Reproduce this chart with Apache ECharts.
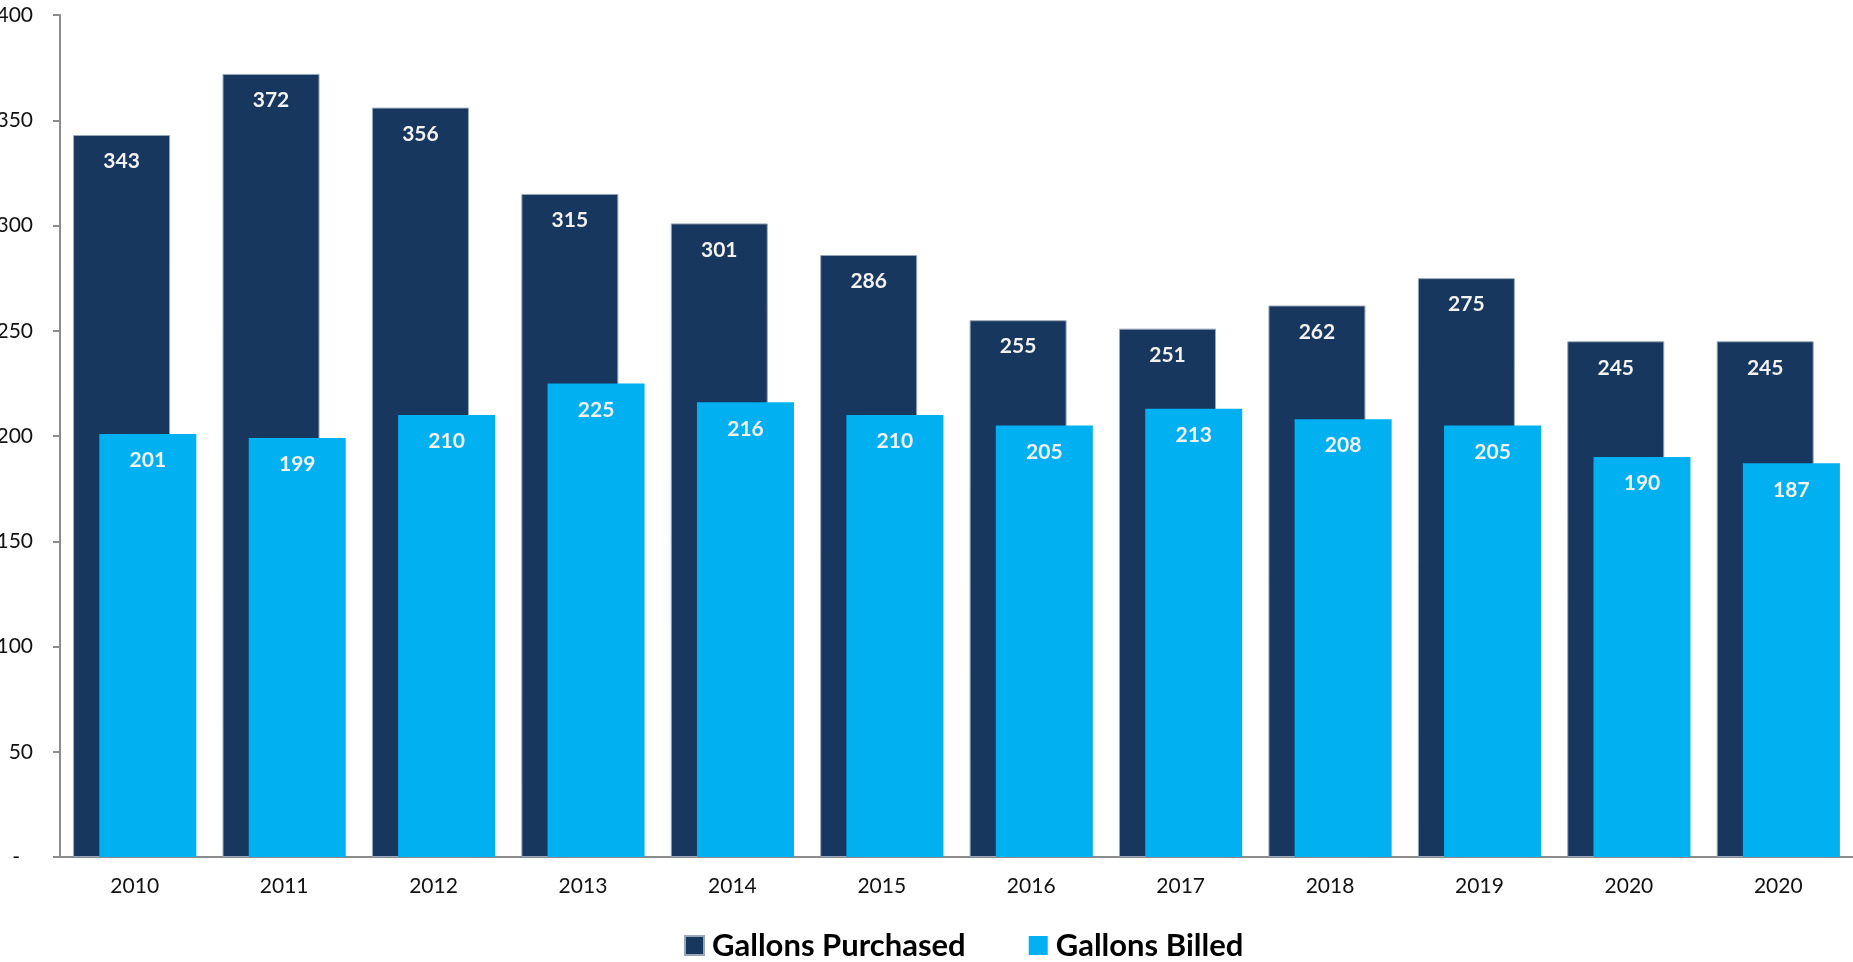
<!DOCTYPE html>
<html>
<head>
<meta charset="utf-8">
<script src="https://cdn.jsdelivr.net/npm/echarts@6/dist/echarts.min.js"></script>
<style>
  html, body { margin: 0; padding: 0; background: #fff; }
  #bar-chart { width: 1853px; height: 962px; }
</style>
</head>
<body>
<div id="bar-chart"></div>
<script>
var years = ['2010', '2011', '2012', '2013', '2014', '2015', '2016', '2017', '2018', '2019', '2020', '2020'];
var purchased = [343, 372, 356, 315, 301, 286, 255, 251, 262, 275, 245, 245];
var billed = [201, 199, 210, 225, 216, 210, 205, 213, 208, 205, 190, 187];
var yTicks = [0, 50, 100, 150, 200, 250, 300, 350, 400];

var myChart = echarts.init(document.getElementById('bar-chart'));

var font = 'Lato, "Open Sans", sans-serif';
var barLabel = {
    show: true,
    position: 'insideTop',
    distance: 16,
    color: '#f2f2f2',
    fontFamily: font,
    fontWeight: 'bold',
    fontSize: 21
};

var option = {
    animation: false,
    grid: { left: 60, right: 0, top: 15, bottom: 105, outerBoundsMode: 'none' },
    legend: {
        top: 925,
        left: 679,
        icon: 'rect',
        itemWidth: 19,
        itemHeight: 19,
        itemGap: 63,
        textStyle: {
            fontFamily: font, fontWeight: 'bold', fontSize: 31, color: '#000',
            padding: [0, 0, 0, 3]
        },
        data: ['Gallons Purchased', 'Gallons Billed']
    },
    xAxis: {
        type: 'category',
        data: years,
        axisLine: { lineStyle: { color: '#8c8c8c', width: 2 } },
        axisTick: { length: 8, lineStyle: { color: '#8c8c8c', width: 2 } },
        axisLabel: { margin: 19, fontFamily: font, fontSize: 21, color: '#111' }
    },
    yAxis: {
        type: 'value',
        min: yTicks[0],
        max: yTicks[yTicks.length - 1],
        interval: 50,
        splitLine: { show: false },
        axisLine: { show: true, lineStyle: { color: '#8c8c8c', width: 2 } },
        axisTick: { show: true, length: 7, lineStyle: { color: '#8c8c8c', width: 2 } },
        axisLabel: {
            margin: 27,
            fontFamily: font,
            fontSize: 21,
            color: '#111',
            formatter: function (v) { return v === 0 ? '{d|-}' : v; },
            rich: { d: { fontFamily: font, fontSize: 21, color: '#111', padding: [0, 13, 0, 0] } }
        }
    },
    series: [{
        name: 'Gallons Purchased',
        type: 'bar',
        data: purchased,
        barWidth: 97,
        barGap: '-73%',
        itemStyle: { color: '#17375e', borderColor: '#9aa7b8', borderWidth: 1 },
        label: barLabel
    }, {
        name: 'Gallons Billed',
        type: 'bar',
        data: billed,
        barWidth: 97,
        itemStyle: { color: '#00b0f0' },
        label: barLabel
    }]
};

myChart.setOption(option);
</script>
</body>
</html>
